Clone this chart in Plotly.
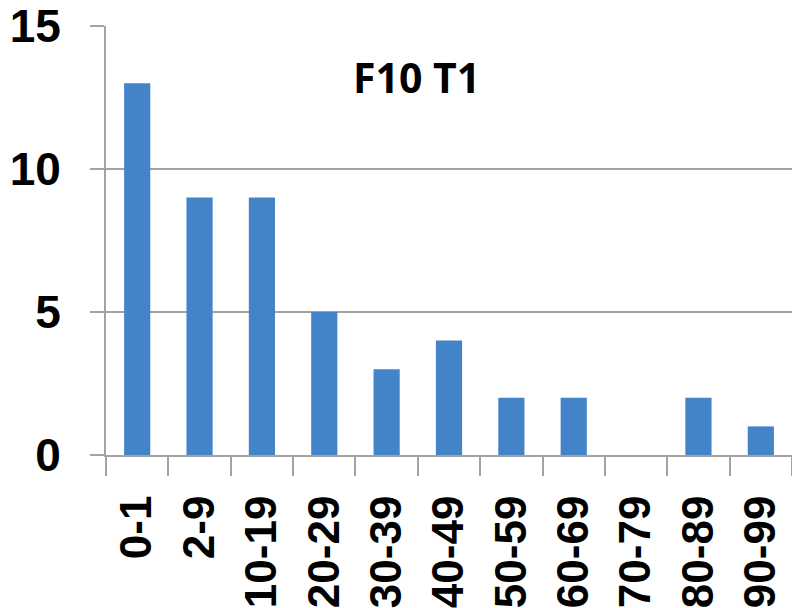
import plotly.graph_objects as go

# Age-bin histogram counts
categories = ["0-1", "2-9", "10-19", "20-29", "30-39", "40-49",
              "50-59", "60-69", "70-79", "80-89", "90-99"]
counts = [13, 9, 9, 5, 3, 4, 2, 2, 0, 2, 1]
y_ticks = [0, 5, 10, 15]
chart_title = "F10 T1"

GRID = "#A3A3A3"
BAR = "#4384C8"

fig = go.Figure(
    go.Bar(
        x=categories,
        y=counts,
        marker=dict(color=BAR, line=dict(width=0)),
        hoverinfo="x+y",
    )
)

fig.update_layout(
    width=792,
    height=608,
    margin=dict(l=106, r=0, t=25, b=151),
    paper_bgcolor="white",
    plot_bgcolor="white",
    bargap=0.58,
    showlegend=False,
    xaxis=dict(
        type="category",
        tickson="boundaries",
        ticks="outside",
        ticklen=19,
        tickwidth=2,
        tickcolor=GRID,
        showline=True,
        linecolor=GRID,
        linewidth=2,
        showgrid=False,
        tickangle=-90,
        ticklabelstandoff=21,
        ticklabeloverflow="allow",
        tickfont=dict(family="Liberation Sans", size=44, color="black", weight="bold"),
    ),
    yaxis=dict(
        range=[0, 15],
        tickvals=y_ticks,
        ticks="outside",
        ticklen=14,
        tickwidth=2,
        tickcolor=GRID,
        showline=True,
        linecolor=GRID,
        linewidth=2,
        showgrid=True,
        gridcolor=GRID,
        gridwidth=2,
        zeroline=False,
        ticklabelstandoff=20,
        ticklabeloverflow="allow",
        tickfont=dict(family="Liberation Sans", size=46, color="black", weight="bold"),
    ),
    annotations=[
        dict(
            text=chart_title,
            xref="paper",
            yref="paper",
            x=0.453,
            y=0.88,
            xanchor="center",
            yanchor="middle",
            showarrow=False,
            font=dict(family="Open Sans", size=41, color="black", weight="bold"),
        )
    ],
)

fig.write_html("out.html")
